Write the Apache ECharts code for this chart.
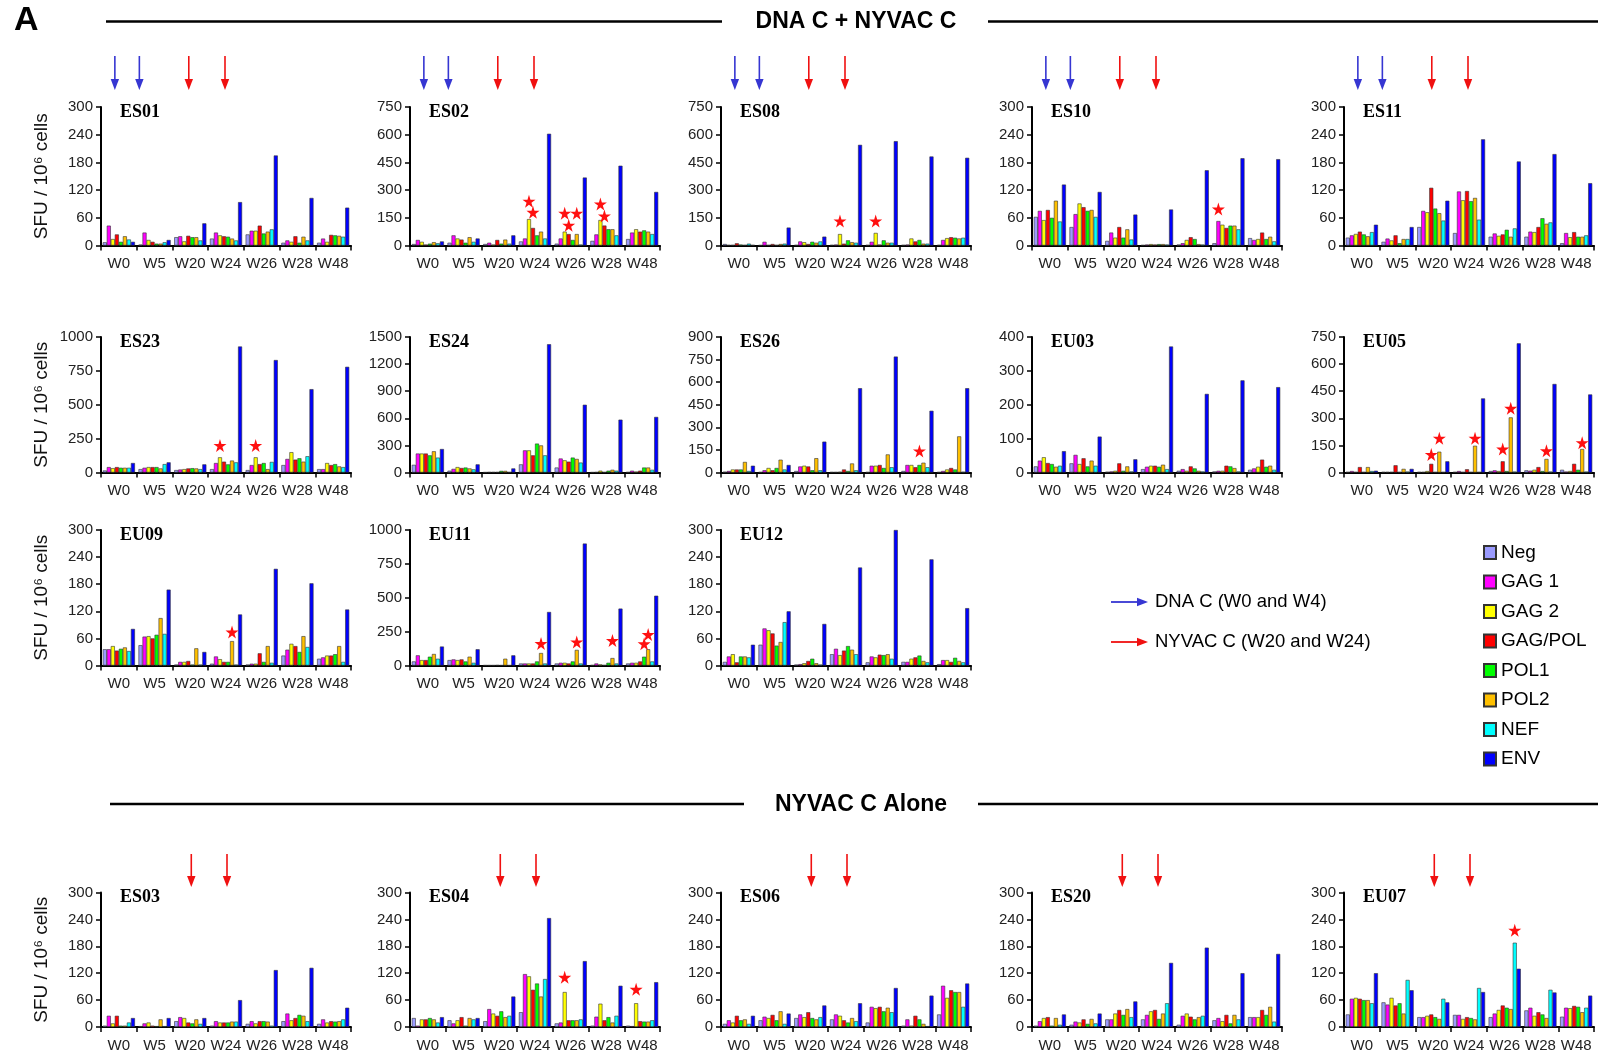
<!DOCTYPE html>
<html><head><meta charset="utf-8">
<script src="https://cdn.jsdelivr.net/npm/echarts@6/dist/echarts.min.js"></script>
<style>html,body{margin:0;padding:0;background:#fff}#c{width:1598px;height:1058px}</style>
</head><body><div id="c"></div>
<script>
// ---------- data ----------
const weeks = ['W0','W5','W20','W24','W26','W28','W48'];
const antigens = ['Neg','GAG 1','GAG 2','GAG/POL','POL1','POL2','NEF','ENV'];
const colors = ['#9B9BFF','#FF00FF','#FFFF00','#FF0000','#00FF00','#FFC000','#00FFFF','#0000FF'];

// each row = one week, values in antigen order
const ES01 = [[7,43,14,24,8,20,13,8],[2,28,12,8,4,4,7,12],[18,20,9,21,18,18,11,48],[15,28,22,20,19,15,11,94],[24,32,32,43,26,30,35,195],[6,11,8,20,6,19,11,103],[6,15,8,23,22,21,19,82]];
const ES02 = [[8,30,20,5,10,18,12,22],[15,55,38,32,15,45,20,38],[8,15,5,30,10,32,10,55],[22,38,143,95,55,75,38,605],[10,38,75,62,30,62,5,368],[25,60,138,108,88,88,55,432],[35,70,88,75,82,75,62,290]];
const ES08 = [[8,3,3,12,5,3,10,3],[2,20,3,8,3,8,10,97],[3,22,18,8,20,15,22,48],[3,5,62,10,28,18,15,545],[3,20,68,5,28,15,15,565],[3,5,38,22,30,10,10,482],[3,30,40,45,42,38,42,475]];
const ES10 = [[62,75,55,77,60,97,52,132],[40,68,91,83,75,77,62,116],[10,28,17,40,17,35,13,67],[1,2,3,2,3,3,2,78],[2,5,12,18,14,3,2,163],[5,53,45,38,43,43,35,189],[16,12,14,28,14,19,9,187]];
const ES11 = [[17,22,25,30,24,20,29,45],[8,15,11,22,5,14,14,40],[40,75,72,125,80,70,54,97],[27,117,98,118,96,103,56,230],[19,26,21,24,34,19,37,182],[19,30,29,40,59,47,50,198],[5,27,18,29,19,19,22,135]];
const ES23 = [[15,40,32,40,35,35,35,70],[25,35,40,40,40,30,62,75],[18,22,25,30,32,30,25,60],[25,70,112,80,60,88,75,930],[18,55,112,62,70,25,78,830],[55,100,150,95,105,80,120,615],[25,25,70,55,62,45,40,780]];
const ES24 = [[85,210,210,210,190,235,165,260],[20,40,60,50,55,45,35,90],[3,5,5,5,18,18,5,45],[90,245,245,190,320,300,190,1420],[55,155,135,120,165,150,110,750],[3,5,20,5,20,30,20,585],[5,20,10,20,55,55,30,615]];
const ES26 = [[5,10,20,20,20,70,10,45],[3,15,30,15,30,85,20,50],[10,40,45,40,15,95,15,205],[3,3,5,20,10,60,15,560],[3,45,45,50,30,120,35,770],[10,50,50,35,50,65,35,410],[3,10,20,30,20,240,5,560]];
const EU03 = [[18,35,45,28,25,17,20,63],[27,52,25,42,18,35,20,106],[2,3,5,27,5,18,3,39],[10,17,20,20,17,23,10,372],[5,10,5,18,12,5,3,232],[3,5,5,20,18,13,3,272],[8,12,17,38,17,20,8,252]];
const EU05 = [[3,8,3,30,3,30,8,10],[3,3,3,40,3,20,5,20],[3,3,8,48,3,115,3,62],[3,8,3,18,3,148,3,410],[8,12,8,62,8,305,5,715],[12,10,15,30,8,75,5,490],[15,5,8,48,15,130,5,432]];
const EU09 = [[36,36,43,33,37,40,32,81],[45,64,65,60,68,105,70,168],[2,8,8,10,2,38,2,30],[4,20,14,8,8,54,2,113],[2,4,4,27,8,43,6,214],[22,35,48,43,30,65,41,182],[15,18,22,22,25,43,8,124]];
const EU11 = [[30,75,40,40,65,85,50,140],[40,45,40,45,30,65,20,120],[2,2,2,3,2,50,2,75],[15,15,15,15,30,92,15,395],[15,20,20,15,30,115,15,900],[3,15,8,3,20,55,15,420],[15,20,20,30,65,120,30,515]];
const EU12 = [[8,20,25,7,20,20,18,46],[46,82,78,71,44,52,96,120],[2,3,5,10,15,5,2,92],[25,37,23,33,43,35,25,217],[7,20,18,24,23,25,15,300],[8,8,15,18,22,10,7,235],[3,12,12,8,17,10,7,127]];
const ES03 = [[3,25,8,25,3,3,10,20],[2,8,10,3,2,17,2,20],[13,22,20,10,8,17,7,20],[3,13,10,10,10,12,12,60],[7,13,8,13,13,12,3,127],[13,30,15,20,27,25,13,132],[7,17,10,13,12,13,17,43]];
const ES04 = [[20,3,17,17,20,17,10,22],[15,8,15,22,3,20,17,20],[13,40,30,25,35,22,25,68],[33,118,113,83,97,68,107,243],[8,10,78,15,15,15,17,147],[3,23,52,15,22,10,25,92],[3,2,53,13,12,12,15,100]];
const ES06 = [[7,15,10,25,15,17,7,25],[15,23,20,27,15,35,7,30],[20,28,22,33,20,17,22,48],[17,28,25,15,10,20,13,53],[10,45,42,45,35,43,33,87],[3,17,3,25,17,7,2,70],[28,92,65,82,78,78,45,97]];
const ES20 = [[3,13,20,22,3,20,5,28],[5,12,10,17,7,18,8,30],[17,17,30,38,27,40,22,57],[17,27,35,38,18,30,53,143],[5,25,30,23,17,22,25,177],[15,20,13,27,8,27,17,120],[22,22,22,38,27,45,12,163]];
const EU07 = [[28,63,65,63,60,60,53,120],[55,50,65,48,53,30,105,82],[22,22,25,28,22,18,63,55],[27,27,18,22,20,17,87,78],[22,30,38,48,43,40,188,130],[37,43,25,33,28,20,83,77],[23,43,42,47,45,33,43,70]];

const panelNames = ['ES01','ES02','ES08','ES10','ES11','ES23','ES24','ES26','EU03','EU05','EU09','EU11','EU12','ES03','ES04','ES06','ES20','EU07'];
const panelData  = [ES01,ES02,ES08,ES10,ES11,ES23,ES24,ES26,EU03,EU05,EU09,EU11,EU12,ES03,ES04,ES06,ES20,EU07];
const yMax       = [300,750,750,300,300,1000,1500,900,400,750,300,1000,300,300,300,300,300,300];
const yStep      = [60,150,150,60,60,250,300,150,100,150,60,250,60,60,60,60,60,60];

// significance stars: [panel, week index, antigen index, height]
const stars = [
 ['ES02',3,2,240],['ES02',3,3,180],['ES02',4,2,175],['ES02',4,5,175],['ES02',4,3,110],['ES02',5,2,225],['ES02',5,3,160],
 ['ES08',3,2,133],['ES08',4,2,133],
 ['ES10',5,1,79],
 ['ES23',3,2,200],['ES23',4,2,200],
 ['ES26',5,4,143],
 ['EU05',2,3,100],['EU05',2,5,190],['EU05',3,5,190],['EU05',4,3,130],['EU05',4,5,355],['EU05',5,5,120],['EU05',6,5,165],
 ['EU09',3,5,74],
 ['EU11',3,5,162],['EU11',4,5,174],['EU11',5,5,184],['EU11',6,4,160],['EU11',6,5,228],
 ['ES04',4,2,111],['ES04',6,2,84],
 ['EU07',4,6,216]
];

// ---------- layout ----------
const SANS = 'Liberation Sans, Arial, sans-serif';
const SERIF = 'Liberation Serif, Times New Roman, serif';
const colLeft = [101, 410, 721, 1032, 1344];
const gridW = 250;
const rowTop = [107, 337, 530, 892.5];
const rowBot = [245.5, 472.5, 665.5, 1027];
const panelPos = [[0,0],[0,1],[0,2],[0,3],[0,4],[1,0],[1,1],[1,2],[1,3],[1,4],[2,0],[2,1],[2,2],[3,0],[3,1],[3,2],[3,3],[3,4]];
const STAR = 'path://M50,0 L61,35 L98,35 L68,57 L79,91 L50,70 L21,91 L32,57 L2,35 L39,35 Z';

const chart = echarts.init(document.getElementById('c'));
const grids=[], xAxes=[], yAxes=[], series=[], titles=[];
panelNames.forEach((name,i)=>{
  const [r,c] = panelPos[i];
  const left = colLeft[c], top = rowTop[r], h = rowBot[r]-rowTop[r];
  grids.push({left:left, top:top, width:gridW, height:h, containLabel:false});
  xAxes.push({type:'category', gridIndex:i, data:weeks, boundaryGap:true,
    axisLine:{lineStyle:{color:'#000', width:2}},
    axisTick:{show:true, length:5, lineStyle:{color:'#000', width:1.5}},
    axisLabel:{interval:0, fontSize:15, color:'#222', margin:11, fontFamily:SANS}});
  yAxes.push({type:'value', gridIndex:i, min:0, max:yMax[i], interval:yStep[i],
    splitLine:{show:false},
    axisLine:{show:true, lineStyle:{color:'#000', width:2}},
    axisTick:{show:true, length:5, lineStyle:{color:'#000', width:1.5}},
    axisLabel:{fontSize:15, color:'#222', margin:8, fontFamily:SANS, formatter:v=>String(v)},
    name: c===0 ? 'SFU / 10\u2076 cells' : '', nameLocation:'middle', nameGap:50, nameRotate:90,
    nameTextStyle:{fontSize:19, color:'#111', fontFamily:SANS}});
  titles.push({text:name, left:left+19, top:top-4, padding:0,
    textStyle:{fontFamily:SERIF, fontWeight:'bold', fontSize:18, color:'#000'}});
  antigens.forEach((a,s)=>{
    const st = stars.filter(t=>t[0]===name && t[2]===s);
    const ser = {type:'bar', name:a, xAxisIndex:i, yAxisIndex:i,
      data: panelData[i].map(row=>row[s]),
      barGap:'0%', barCategoryGap:'10%',
      itemStyle:{color:colors[s], borderColor:'#333', borderWidth:0.6}};
    if (st.length) {
      ser.markPoint = {symbol:STAR, symbolSize:13, itemStyle:{color:'#FF1010', borderWidth:0},
        label:{show:false}, animation:false, silent:true,
        data: st.map(t=>({coord:[t[1], t[3]]}))};
    }
    series.push(ser);
  });
});

chart.setOption({
  animation:false,
  backgroundColor:'#fff',
  textStyle:{fontFamily:SANS},
  title:titles, grid:grids, xAxis:xAxes, yAxis:yAxes, series:series,
  legend:{orient:'vertical', left:1478, top:538, itemWidth:12, itemHeight:13, itemGap:10.5,
    selectedMode:false, icon:'rect', data:antigens,
    textStyle:{fontSize:19, color:'#000', fontFamily:SANS}}
});

// ---------- annotations (arrows, headers) ----------
const g = [];
function vArrow(x, y1, y2, color){
  g.push({type:'line', shape:{x1:x, y1:y1, x2:x, y2:y2-9}, style:{stroke:color, lineWidth:1.6}, silent:true});
  g.push({type:'polygon', shape:{points:[[x-4.2,y2-11],[x+4.2,y2-11],[x,y2]]}, style:{fill:color}, silent:true});
}
function hArrow(x1, x2, y, color){
  g.push({type:'line', shape:{x1:x1, y1:y, x2:x2-9, y2:y}, style:{stroke:color, lineWidth:1.8}, silent:true});
  g.push({type:'polygon', shape:{points:[[x2-11,y-4.2],[x2-11,y+4.2],[x2,y]]}, style:{fill:color}, silent:true});
}
const BLUE = '#3636D2', RED = '#F01010';
panelNames.forEach((name,i)=>{
  const [r] = panelPos[i];
  const px = k => chart.convertToPixel({gridIndex:i}, [k, 0])[0];
  if (r===0) {
    vArrow(px(0)-4, 56, 90, BLUE);
    vArrow(px(0)+20.5, 56, 90, BLUE);
    vArrow(px(2)-1.5, 56, 90, RED);
    vArrow(px(3)-1, 56, 90, RED);
  } else if (r===3) {
    vArrow(px(2)+1, 854, 887, RED);
    vArrow(px(3)+1, 854, 887, RED);
  }
});
// headers
g.push({type:'text', style:{text:'A', x:14, y:21, fontSize:34, fontWeight:'bold', fontFamily:SANS, fill:'#000', textVerticalAlign:'middle'}});
g.push({type:'line', shape:{x1:106, y1:21.5, x2:722, y2:21.5}, style:{stroke:'#000', lineWidth:2.5}});
g.push({type:'line', shape:{x1:988, y1:21.5, x2:1598, y2:21.5}, style:{stroke:'#000', lineWidth:2.5}});
g.push({type:'text', style:{text:'DNA C + NYVAC C', x:856, y:22, fontSize:23, fontWeight:'bold', fontFamily:SANS, fill:'#000', textAlign:'center', textVerticalAlign:'middle'}});
g.push({type:'line', shape:{x1:110, y1:804, x2:744, y2:804}, style:{stroke:'#000', lineWidth:2.5}});
g.push({type:'line', shape:{x1:978, y1:804, x2:1598, y2:804}, style:{stroke:'#000', lineWidth:2.5}});
g.push({type:'text', style:{text:'NYVAC C Alone', x:861, y:805, fontSize:23, fontWeight:'bold', fontFamily:SANS, fill:'#000', textAlign:'center', textVerticalAlign:'middle'}});
// arrow legend
hArrow(1111, 1148, 602, BLUE);
g.push({type:'text', style:{text:'DNA C (W0 and W4)', x:1155, y:602, fontSize:18.5, fontFamily:SANS, fill:'#000', textVerticalAlign:'middle'}});
hArrow(1111, 1148, 642, RED);
g.push({type:'text', style:{text:'NYVAC C (W20 and W24)', x:1155, y:642, fontSize:18.5, fontFamily:SANS, fill:'#000', textVerticalAlign:'middle'}});

chart.setOption({graphic:g});
</script>
</body></html>
